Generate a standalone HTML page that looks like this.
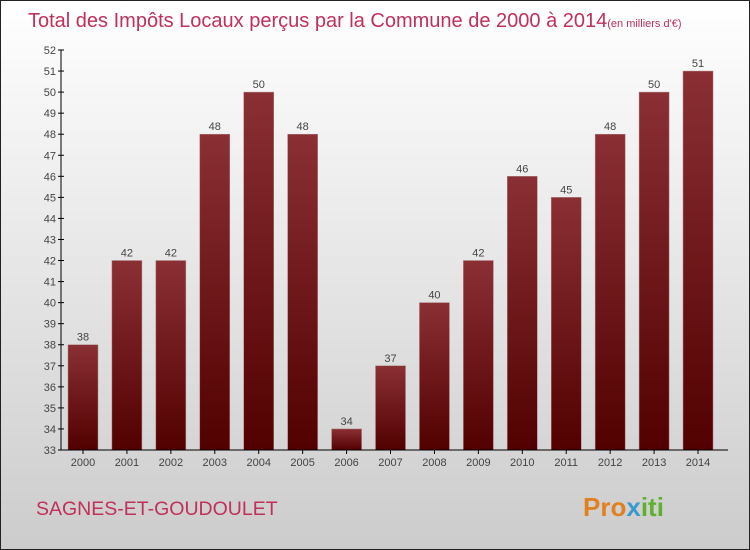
<!DOCTYPE html>
<html><head><meta charset="utf-8"><style>
body{margin:0}
#c{width:748px;height:548px;border:1px solid #222;background:linear-gradient(#fff,#ccc);position:relative;font-family:"Liberation Sans",sans-serif;overflow:hidden}
</style></head><body>
<div id="c">
<svg id="s" width="748" height="548">
<defs><linearGradient id="g" x1="0" y1="0" x2="0" y2="1"><stop offset="0" stop-color="#8a3035"/><stop offset="1" stop-color="#520000"/></linearGradient></defs>
<text x="27" y="26" font-size="20" fill="#c0305a">Total des Impôts Locaux perçus par la Commune de 2000 à 2014<tspan font-size="11">(en milliers d'€)</tspan></text>
<text x="35" y="514" font-size="19.5" fill="#c0305a">SAGNES-ET-GOUDOULET</text>
<text x="582" y="515" font-size="26" font-weight="bold" fill="#e08020">Pro<tspan fill="#3a9ad0">x</tspan><tspan fill="#60b030">iti</tspan></text>
</svg></div>
<script>
const years=["2000","2001","2002","2003","2004","2005","2006","2007","2008","2009","2010","2011","2012","2013","2014"];
const values=[38,42,42,48,50,48,34,37,40,42,46,45,48,50,51];
const yTicks=[33,34,35,36,37,38,39,40,41,42,43,44,45,46,47,48,49,50,51,52];
const s=document.getElementById('s');const NS="http://www.w3.org/2000/svg";
const yMin=33,yMax=52,y0=449,y1=49;
const y=v=>y0-(v-yMin)/(yMax-yMin)*(y0-y1);
const x=i=>82+i*43.93;
function mk(t,a,txt){const e=document.createElementNS(NS,t);for(const k in a)e.setAttribute(k,a[k]);if(txt!==undefined)e.textContent=txt;s.appendChild(e);return e;}
values.forEach((v,i)=>{
const b=mk('rect',{x:x(i)-15,y:y(v),width:30,height:y0-y(v),fill:'url(#g)',stroke:'#b08080','stroke-width':0.5});


const l=mk('text',{x:x(i),y:y(v)-4,'font-size':11,fill:'#444','text-anchor':'middle'},String(v));


const t=mk('text',{x:x(i),y:y0+16,'font-size':11,fill:'#444','text-anchor':'middle'},years[i]);


mk('line',{x1:x(i),x2:x(i),y1:y0,y2:y0+4,stroke:'#000'});
});
yTicks.forEach(v=>{
mk('line',{x1:57,x2:63,y1:y(v),y2:y(v),stroke:'#000'});
const t=mk('text',{x:55,y:y(v)+4,'font-size':11,fill:'#444','text-anchor':'end'},String(v));


});
const ya=mk('line',{x1:60,x2:60,y1:y1,y2:y0,stroke:'#000'});


const xa=mk('line',{x1:60,x2:727,y1:y0,y2:y0,stroke:'#000'});


</script>
</body></html>
